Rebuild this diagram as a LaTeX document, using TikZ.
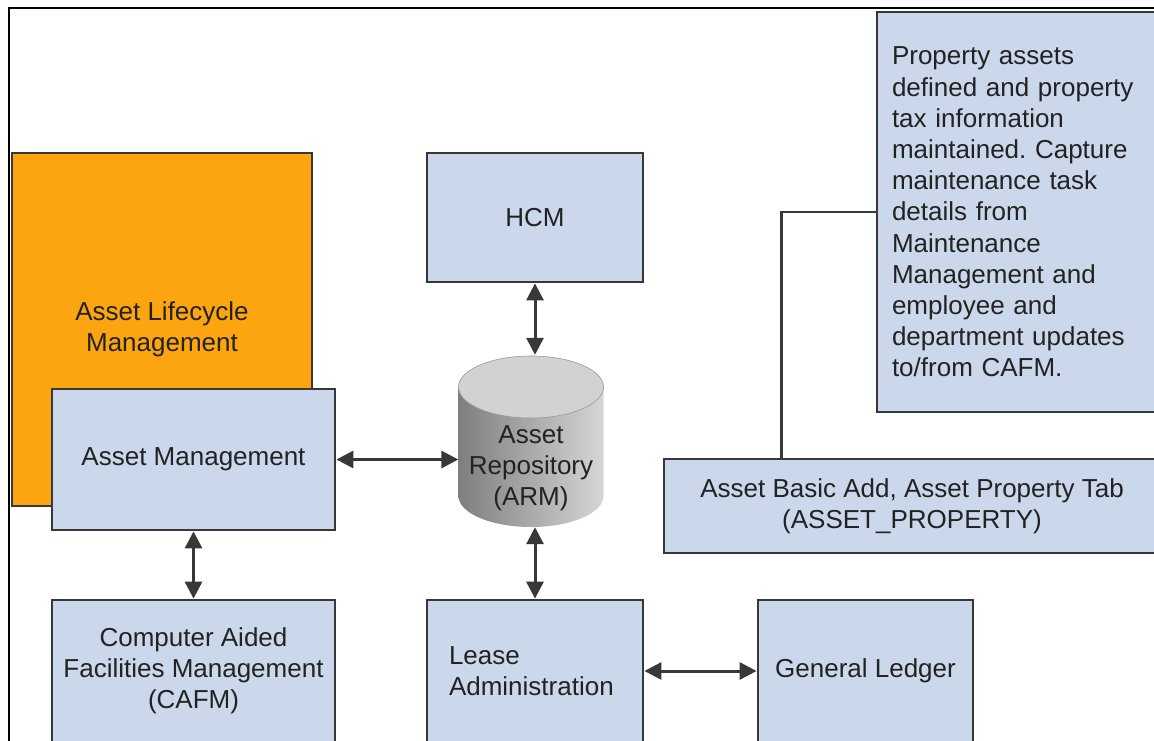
\documentclass[tikz,border=0pt]{standalone}
\usepackage{fontspec}
\setmainfont{Liberation Sans}
\usetikzlibrary{arrows.meta}
\definecolor{boxblue}{HTML}{CBD8EB}
\definecolor{almorange}{HTML}{FCA511}
\definecolor{edgegray}{HTML}{383838}
\definecolor{txtcol}{HTML}{222222}
\definecolor{cylL}{HTML}{7E7E7E}
\definecolor{cylR}{HTML}{D6D6D6}
\definecolor{cyltop}{HTML}{D2D2D2}
\frenchspacing
\begin{document}
\begin{tikzpicture}[x=1pt,y=1pt,
  every node/.style={font=\fontsize{26}{31.2}\selectfont, text=txtcol},
  box/.style={draw=edgegray, line width=2.8pt, fill=boxblue, inner sep=0pt, align=center},
  arr/.style={{Triangle[length=17pt,width=17pt]}-{Triangle[length=17pt,width=17pt]}, draw=edgegray, line width=3pt},
  link/.style={draw=edgegray, line width=2.6pt}]
\useasboundingbox (0,0) rectangle (1154,-740);
\clip (0,0) rectangle (1154,-740);
\fill[white] (0,0) rectangle (1154,-740);
\draw[black, line width=2pt] (9,-745) -- (9,-8) -- (1160,-8);

\node[box, fill=almorange, minimum width=300, minimum height=353] (alm) at (162,-329.5) {Asset Lifecycle\\Management};
\node[box, minimum width=283, minimum height=141] (am) at (193.5,-459.5) {Asset Management};
\node[box, minimum width=216, minimum height=129] (hcm) at (535,-217.5) {HCM};
\node[box, minimum width=283, minimum height=142] (cafm) at (193.5,-671) {Computer Aided\\Facilities Management\\(CAFM)};
\node[box, minimum width=216, minimum height=142, text width=172, align=left] (lease) at (535,-671) {Lease\\Administration};
\node[box, minimum width=215, minimum height=142] (gl) at (865.5,-671) {General Ledger};
\node[box, minimum width=293, minimum height=400, text width=263, align=left] (note) at (1023.5,-212) {Property assets\\defined and property\\tax information\\maintained. Capture\\maintenance task\\details from\\Maintenance\\Management and\\employee and\\department updates\\to/from CAFM.};
\node[box, minimum width=496, minimum height=94] (abad) at (912,-506) {Asset Basic Add, Asset Property Tab\\(ASSET\_PROPERTY)};

% Asset Repository cylinder
\node[minimum width=145, minimum height=172, inner sep=0pt] (arm) at (531,-441) {};
\shade[left color=cylL, right color=cylR] (458.5,-387) -- (458.5,-496) arc[start angle=180,end angle=360,x radius=72.5,y radius=31] -- (603.5,-387) -- cycle;
\fill[cyltop] (531,-387) ellipse[x radius=72.5, y radius=31];
\draw[gray!80, line width=0.6pt] (531,-387) ellipse[x radius=72.5, y radius=31];
\node[align=center] (armtext) at (531,-468) {Asset\\Repository\\(ARM)};

\draw[arr] (hcm.south) -- (hcm.south |- arm.north);
\draw[arr] (am.east) -- (am.east -| arm.west);
\draw[arr] (lease.north |- arm.south) -- (lease.north);
\draw[arr] (am.south) -- (cafm.north);
\draw[arr] (lease.east) -- (gl.west);
\draw[link] ([xshift=119pt]abad.north west) |- (note.west);
\end{tikzpicture}
\end{document}
